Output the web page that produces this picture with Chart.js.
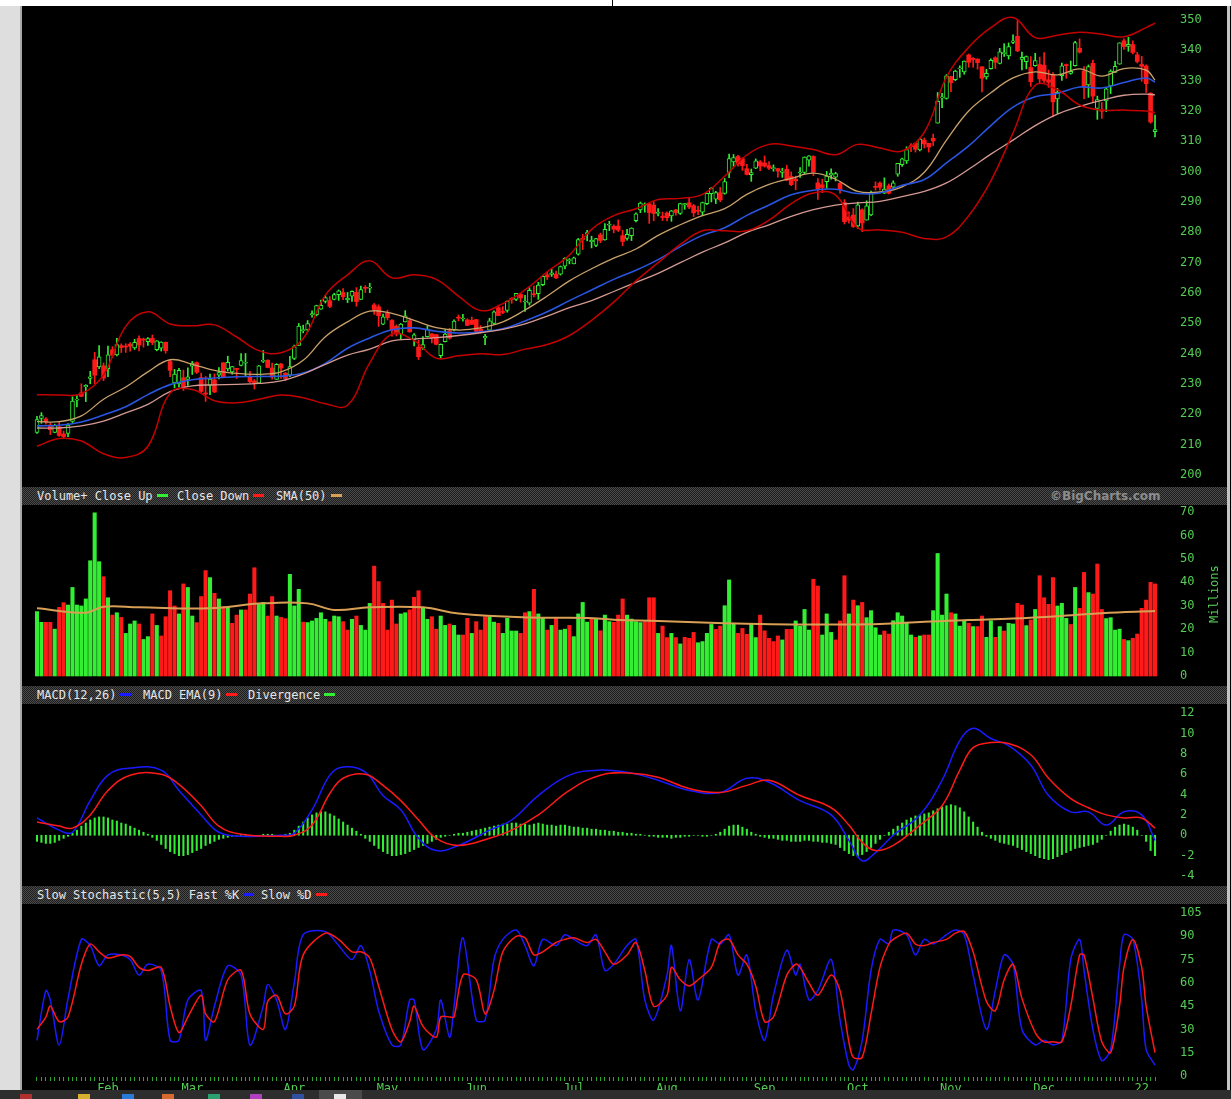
<!DOCTYPE html>
<html>
<head>
<meta charset="utf-8">
<script src="https://cdn.jsdelivr.net/npm/chart.js@4.4.1/dist/chart.umd.min.js"></script>
<style>
  body { margin: 0; width: 1231px; height: 1099px; background: #000; position: relative; overflow: hidden;
         font-family: "DejaVu Sans Mono", monospace; }
  canvas { position: absolute; left: 22px; }
  #top { position: absolute; left: 0; top: 0; width: 1231px; height: 6px; background: #fff; }
  #topline { position: absolute; left: 612px; top: 0; width: 1px; height: 6px; background: #000; }
  #left { position: absolute; left: 0; top: 6px; width: 20px; height: 1084px; background: #dedede; border-right: 2px solid #a8a8a8; }
  #edge { position: absolute; left: 1227px; top: 6px; width: 3px; height: 1084px; background: #c4c4c4; }
  .strip { position: absolute; left: 22px; width: 1205px; height: 18px;
           background: repeating-conic-gradient(#4a4a4a 0% 25%, #1e1e1e 0% 50%) 0 0 / 2px 2px;
           border-bottom: 1px solid #000; color: #e6e6e6; font-size: 12px; line-height: 18px; }
  .strip span { position: absolute; top: 0; white-space: pre; }
  .sw { display: inline-block; width: 11px; height: 3px; vertical-align: middle; margin-left: 4px; margin-bottom: 2px; }
  #copy { position: absolute; left: 1050px; top: 487px; line-height: 18px; font-family: "DejaVu Sans", sans-serif;
          font-weight: bold; font-size: 12px; color: #8c8c8c; }
  #millions { position: absolute; left: 1186px; top: 588px; width: 56px; text-align: center; font-size: 12px;
              color: #55cc55; transform: rotate(-90deg); }
  #taskbar { position: absolute; left: 0; top: 1090px; width: 1231px; height: 9px; background: #2d2d2d; }
  #taskbar div { position: absolute; top: 4px; width: 12px; height: 5px; }
</style>
</head>
<body>
<div id="top"></div><div id="topline"></div>
<div id="left"></div>

<canvas id="cPrice" width="1209" height="481" style="top:6px"></canvas>

<div class="strip" style="top:487px">
  <span style="left:15px">Volume+ Close Up<i class="sw" style="background:#33ee33"></i></span>
  <span style="left:155px">Close Down<i class="sw" style="background:#ff1a1a"></i></span>
  <span style="left:254px">SMA(50)<i class="sw" style="background:#d9a055"></i></span>
</div>
<div id="copy">©BigCharts.com</div>
<canvas id="cVol" width="1209" height="181" style="top:505px"></canvas>
<div id="millions">Millions</div>

<div class="strip" style="top:686px">
  <span style="left:15px">MACD(12,26)<i class="sw" style="background:#1a1aff"></i></span>
  <span style="left:121px">MACD EMA(9)<i class="sw" style="background:#ff1a1a"></i></span>
  <span style="left:226px">Divergence<i class="sw" style="background:#33ee33"></i></span>
</div>
<canvas id="cMacd" width="1209" height="180" style="top:706px"></canvas>

<div class="strip" style="top:886px">
  <span style="left:15px">Slow Stochastic(5,5) Fast %K<i class="sw" style="background:#1a1aff"></i></span>
  <span style="left:239px">Slow %D<i class="sw" style="background:#ff1a1a"></i></span>
</div>
<canvas id="cStoch" width="1209" height="193" style="top:906px"></canvas>

<div id="edge"></div>
<div id="taskbar">
  <div style="left:20px;background:#b03030"></div><div style="left:78px;background:#d8b030"></div>
  <div style="left:122px;background:#2a7ad8"></div><div style="left:162px;background:#d86a30"></div>
  <div style="left:208px;background:#2aa070"></div><div style="left:250px;background:#b040c0"></div>
  <div style="left:292px;background:#3050a0"></div>
  <div style="left:319px;top:0;width:43px;height:9px;background:#4a4a4a"></div>
  <div style="left:334px;background:#e8e8e8"></div>
</div>

<script>
// one trading day per index, 7 Jan 2021 .. 6 Jan 2022
const opens = [
  214.04,218.68,218.47,216.50,214.02,215.91,213.52,213.75,217.70,224.70,227.08,229.12,231.86,238.00,235.61,235.99,
  235.06,241.30,239.57,242.66,242.23,243.15,241.87,245.00,244.78,243.93,245.03,241.32,241.80,243.75,237.42,230.33,230.01,232.08,231.53,
  235.90,237.01,232.16,226.74,229.52,231.37,232.88,237.00,234.96,234.01,234.96,236.15,236.85,232.56,231.02,230.27,237.49,237.85,235.30,231.55,236.59,233.53,232.91,
  238.47,242.76,247.61,247.81,252.77,252.87,254.71,257.26,257.48,257.93,259.47,260.19,257.82,258.94,260.21,257.88,261.66,261.58,256.08,255.46,249.74,
  253.40,250.97,249.06,246.45,250.45,250.87,244.55,242.17,241.80,245.58,246.55,246.27,239.31,243.96,247.57,247.79,251.77,251.43,251.17,251.00,
  251.23,248.13,245.22,247.76,249.98,255.16,253.81,254.29,257.99,257.90,259.58,257.05,256.65,259.63,259.82,262.72,265.99,266.16,266.23,266.19,268.87,270.69,
  269.61,272.82,278.03,279.40,276.90,275.72,279.16,277.52,282.35,282.00,282.07,278.93,278.03,278.90,283.84,287.37,289.00,289.43,288.99,286.24,285.18,
  286.36,285.42,287.42,286.22,289.06,289.75,288.80,287.21,286.63,289.48,292.78,290.92,293.05,292.85,299.72,303.25,305.02,304.30,300.99,298.99,301.12,303.25,
  302.86,302.00,300.99,301.01,299.78,300.82,298.42,297.55,299.56,299.78,303.76,305.01,296.33,295.69,296.73,298.85,298.23,296.14,289.80,285.10,285.71,
  282.12,287.40,284.05,285.78,295.18,296.22,292.92,295.34,294.91,299.21,302.34,303.57,308.35,309.36,307.16,310.41,309.36,311.00,316.00,324.33,324.13,
  331.36,330.31,333.90,332.89,338.51,337.30,337.11,334.57,331.25,333.92,337.54,335.68,338.94,338.18,342.64,344.62,337.05,336.28,334.35,334.94,335.32,
  335.13,330.30,331.99,323.95,331.64,335.31,332.41,334.98,340.68,333.22,328.61,335.71,320.88,320.05,323.29,328.30,332.75,335.46,343.15,341.30,341.91,338.51,
  335.35,334.83,325.86,313.15
];
const highs = [
  219.34,220.58,218.91,217.10,216.76,217.46,214.51,216.98,225.79,226.30,230.07,229.78,234.18,240.44,242.64,236.94,
  242.50,242.31,245.09,243.24,243.28,243.68,244.76,245.92,245.15,245.30,246.13,244.31,243.93,243.86,237.93,234.83,235.20,234.59,235.37,
  237.47,237.30,233.58,232.49,233.27,233.37,235.38,237.00,239.17,235.82,235.19,240.06,240.07,234.20,231.47,236.14,241.05,238.00,236.94,236.71,236.80,233.85,239.10,
  242.84,249.96,249.40,250.93,254.14,255.99,257.67,259.19,258.83,259.93,261.00,261.48,260.20,260.68,261.78,262.30,262.44,263.19,256.54,256.10,253.08,
  254.35,251.21,249.50,249.97,254.20,251.73,246.60,244.38,245.60,249.18,246.59,246.41,243.23,247.95,248.33,251.16,252.75,252.94,251.48,252.08,
  251.29,249.27,246.34,251.65,254.09,256.01,255.53,257.46,258.49,259.88,259.89,259.25,261.75,262.30,263.52,265.79,266.83,267.85,267.25,268.90,271.65,271.36,
  271.84,278.00,279.37,280.69,278.73,278.05,279.77,282.85,283.66,282.51,284.10,280.69,280.97,281.52,286.42,289.99,289.69,289.58,290.15,287.86,286.66,
  286.77,287.23,287.59,289.63,289.50,291.55,289.25,288.66,289.97,292.90,294.82,293.54,294.82,297.76,305.84,305.65,305.40,304.59,302.43,300.87,304.22,303.65,
  305.19,303.35,302.24,301.09,301.15,302.14,299.92,298.54,301.39,304.90,305.32,305.27,297.76,297.54,300.07,300.90,299.80,296.47,290.78,286.77,287.83,
  289.98,287.75,290.40,293.63,296.64,296.64,297.97,295.95,297.00,302.68,304.45,308.21,309.30,309.54,311.09,311.09,309.40,312.40,326.10,325.84,332.00,
  331.49,333.45,334.90,336.54,338.79,337.65,337.21,334.63,333.77,337.23,337.88,340.67,342.19,342.45,345.10,349.67,339.45,338.16,337.93,339.03,337.78,
  339.28,333.49,332.70,327.45,335.80,335.50,336.48,343.00,343.79,334.64,335.19,336.76,324.92,322.80,327.73,333.61,336.39,342.48,343.81,344.30,343.13,339.36,
  338.00,335.20,326.07,318.70
];
const lows = [
  213.71,217.03,216.73,213.32,213.93,212.74,212.03,212.63,217.29,222.42,225.80,224.22,230.08,230.14,235.09,231.11,
  232.43,238.69,239.26,240.37,240.42,240.81,241.38,240.89,242.15,242.73,242.92,240.94,240.86,240.18,232.40,228.73,229.00,227.88,229.54,
  233.15,233.45,227.26,224.26,226.46,227.13,231.67,232.04,234.31,233.23,231.81,235.94,232.63,230.33,228.35,230.17,237.07,235.32,231.57,231.55,231.88,231.10,232.39,
  238.05,242.70,246.88,247.19,252.00,252.44,254.62,256.70,255.16,257.73,257.60,257.82,256.84,257.25,255.64,257.82,260.17,260.12,252.95,249.00,249.60,
  251.12,245.76,245.82,244.80,250.45,247.12,242.57,238.07,241.42,245.49,243.52,242.90,238.60,243.86,244.74,247.51,250.82,250.75,249.25,249.56,
  246.96,246.89,243.00,247.51,249.81,252.51,253.21,253.67,256.61,257.50,256.95,253.90,256.01,258.75,257.92,262.40,264.43,265.47,264.76,265.91,267.98,269.60,
  269.60,272.50,274.30,277.15,274.87,275.32,276.58,277.39,280.55,279.83,280.28,275.60,277.41,277.29,283.42,286.50,286.64,282.95,283.83,285.43,283.91,
  283.74,283.65,285.65,285.89,287.62,287.81,285.20,285.86,285.55,289.14,290.02,289.49,290.10,292.56,298.06,301.80,301.85,300.42,298.95,296.83,301.00,300.31,
  301.49,300.70,300.15,298.20,298.12,297.00,295.38,294.08,298.10,299.35,301.82,298.69,290.86,293.07,294.51,297.53,296.93,292.94,282.75,283.01,281.62,
  281.29,280.25,284.05,285.51,293.92,293.92,292.75,292.66,294.03,298.49,301.74,302.69,306.56,306.46,306.87,307.80,306.46,308.60,316.00,321.10,323.90,
  326.37,330.00,331.09,332.12,334.42,334.44,333.79,326.29,330.51,333.79,334.03,335.51,338.00,337.12,342.20,339.55,333.56,333.91,328.12,334.74,328.99,
  329.39,327.80,318.03,319.23,330.10,330.80,332.12,334.79,339.08,324.11,324.50,323.02,317.25,317.57,319.80,325.75,332.73,335.43,340.32,339.68,338.82,335.85,
  329.78,326.12,315.98,311.49
];
const closes = [
  218.29,219.62,217.49,214.93,216.34,213.02,212.65,216.44,224.34,224.97,225.95,229.53,232.33,232.90,238.93,231.96,
  239.65,239.51,243.00,242.01,242.20,242.47,243.77,242.82,244.49,244.99,243.70,244.20,243.79,240.97,234.51,233.27,234.55,228.99,232.38,
  236.94,233.87,227.56,226.73,231.60,227.39,233.78,232.42,237.13,235.75,234.81,237.71,237.04,230.72,230.35,235.99,237.58,235.46,232.34,236.48,235.24,231.85,235.77,
  242.35,249.07,247.86,249.90,253.25,255.85,255.91,258.49,255.59,259.50,260.74,258.74,258.26,260.58,257.17,261.15,261.55,261.97,254.56,252.51,252.18,
  251.86,247.79,246.47,249.73,252.46,247.18,246.23,239.00,243.03,248.15,245.18,243.08,243.12,246.48,245.17,250.78,251.72,251.49,249.31,249.68,
  247.40,247.30,245.71,250.79,253.81,252.57,253.59,257.24,257.89,259.89,258.36,257.38,260.90,259.43,262.63,265.51,265.27,266.69,265.02,268.72,271.40,270.90,
  271.60,277.65,277.66,279.93,277.42,277.94,277.32,280.98,282.51,281.03,280.75,277.01,279.32,281.40,286.14,289.67,289.05,286.54,286.22,286.50,284.91,
  284.82,287.12,286.51,289.52,289.46,288.33,286.44,286.95,289.81,292.85,294.60,293.08,290.73,296.77,304.36,304.65,302.62,302.01,299.09,299.72,303.59,301.88,
  301.83,301.15,301.14,300.18,300.21,297.25,295.71,296.99,299.79,304.82,305.22,299.87,294.30,294.80,298.58,299.56,299.35,294.17,283.52,284.00,281.92,
  289.10,283.11,288.76,293.11,294.85,294.85,294.23,292.88,296.31,302.75,304.21,307.29,308.23,307.41,310.76,309.16,308.13,310.11,323.17,324.35,331.62,
  329.37,333.13,334.00,336.44,336.06,336.99,335.95,330.80,332.43,336.72,336.07,339.51,339.12,341.27,343.11,339.83,337.68,337.91,329.68,336.63,330.59,
  330.08,329.49,323.01,326.19,334.92,334.97,333.10,342.54,339.40,328.34,334.65,324.90,323.80,319.91,327.29,333.20,334.69,342.45,341.25,341.95,339.32,336.32,
  334.75,329.01,316.38,313.88
];
// volume, millions
const volumes = [
  27.5,22.9,22.9,22.9,20.0,29.3,31.3,30.3,37.8,30.3,29.9,32.9,49.2,69.7,48.8,42.4,33.4,26.0,27.0,25.0,
  18.2,22.2,23.5,22.2,15.6,16.8,26.5,21.6,17.1,25.3,36.4,29.9,26.5,39.3,37.8,25.6,22.8,33.9,45.0,42.0,
  35.3,32.9,29.6,29.6,22.5,26.0,28.2,28.2,35.0,46.2,31.0,31.4,25.6,33.9,25.6,25.0,24.5,43.4,29.9,37.0,
  23.0,22.8,23.5,24.6,27.0,24.2,23.2,25.6,25.3,23.2,19.6,24.2,25.6,21.6,19.6,31.0,46.9,40.3,31.0,19.6,
  32.4,22.2,26.5,27.0,28.2,33.6,36.4,28.9,24.2,25.3,20.0,25.6,21.6,22.2,21.6,17.5,17.5,24.6,18.2,23.2,
  19.6,25.3,25.3,23.0,22.5,18.2,24.6,19.2,19.2,18.2,27.0,27.5,37.0,26.5,24.6,19.6,21.6,25.0,19.6,20.0,
  21.6,16.8,26.5,31.4,23.0,24.3,24.6,19.3,26.0,23.2,22.9,26.0,32.9,26.0,24.3,23.2,22.8,23.2,33.4,33.4,
  18.2,21.3,16.4,18.2,16.4,13.7,16.5,16.1,18.6,14.2,14.7,18.2,22.0,19.9,21.3,30.0,41.0,22.5,18.2,20.3,
  17.8,22.2,16.4,26.0,19.3,16.1,14.7,17.1,15.4,19.9,19.9,23.5,21.3,28.4,19.6,41.3,38.4,17.5,26.5,18.6,
  15.4,23.5,42.8,26.5,32.4,30.0,31.4,24.9,27.9,20.6,17.5,19.2,17.9,23.6,27.0,25.6,22.5,17.5,16.5,17.1,
  17.5,17.5,27.9,52.3,26.0,35.0,27.0,26.5,21.3,23.5,22.5,21.1,21.1,25.6,16.5,23.6,16.5,21.1,19.2,22.5,
  22.2,31.0,30.3,21.5,23.9,28.4,42.8,33.4,30.6,42.0,29.9,31.0,24.6,22.0,37.8,28.9,44.2,35.6,35.0,47.8,
  28.4,24.5,24.9,19.6,20.0,15.6,15.1,16.1,17.9,28.9,32.4,40.0,39.3
];

// price overlays, read every 5 sessions
const overlayDays = [0,5,10,15,20,25,30,35,40,45,50,55,60,65,70,75,80,85,90,95,100,105,110,115,120,125,
  130,135,140,145,150,155,160,165,170,175,180,185,190,195,200,205,210,215,220,225,230,235,240,245,250,252];
const bbUpper = [226.5,226.4,226.8,233,249,253.8,249.8,249.2,249.5,245.5,241,240.3,245,259.3,266,270.6,265,266,264.5,259,254.2,256.5,
  261,267,272.5,281,285.5,287.8,290.8,291.2,292.5,298.5,305.5,309,308.5,307.3,305.6,309,307.8,306.8,313,331.2,341,347.5,350.8,344.2,
  345,346,345.3,344.5,347.5,349];
const bbLower = [209.5,212,211.2,207,205.8,209.5,227,228.2,224.5,223.8,225,226.4,225.5,223.5,223,237,246.5,244.3,238.5,239.3,240,239.7,
  241.5,243,246,251,257,264,270,276,280.5,280.5,280.5,284,289.5,293,292.3,281.5,280.8,280,278,278.5,285.5,297,312.8,328.5,
  327,322,320.3,320.3,320,319.5];
const sma20 = [217.6,217.6,219.5,225,229,234,238,236.5,234.5,233.5,233.2,234,237.8,245.6,250.5,254,253.3,251,248.6,247.8,248.5,250.5,
  254.4,259,264,268,271.5,274.5,279,282.5,285.5,287.8,292.5,295.8,297.8,299.5,297.5,293.5,293.3,295,299.8,310.4,320,326,330.9,332.9,
  331.9,333.9,331.5,334,333.5,330.2];
const sma50 = [216.2,216.4,217.5,219.8,222.5,226.5,229.8,231.4,232,232.4,232.5,232.6,233.6,236.8,241.8,245.2,247.9,248.5,247.4,246.8,247.2,248.2,
  250.8,253.8,257.5,261,264.5,267.5,271,275.3,279,281.5,285.6,289,292.4,293.9,294.2,292.8,293,295.5,297.4,302.9,308.5,315.2,321.3,324.7,
  325.8,327.9,327.6,329.4,330.9,329.6];
const sma100 = [215.5,215.5,216.2,217.8,220.5,223.3,227.5,229.4,229.7,229.9,230.2,231,233.3,236.5,239.5,241.5,244.2,244.8,245.3,246,246.9,248,
  249.8,252.4,255.2,257.5,260.5,263.5,266.5,270,273.5,276.5,280,282.5,285.3,287.5,289,289.7,290.2,291.8,293.5,296.3,300.8,305.8,310.4,315.2,
  319,321.5,323.5,325.2,325.6,325.3];

const volSmaDays = [0,11,15,23,39,51,61,67,75,87,95,111,124,130,140,150,160,170,180,190,200,210,220,230,240,252];
const volSma = [28.9,27.0,29.6,29.3,28.9,31.0,31.0,28.2,29.3,29.3,26.7,25.0,24.8,24.0,23.5,22.8,22.3,22.0,22.0,22.2,23.2,23.9,24.5,25.5,26.8,27.7];

const macdDays = [0,5,8,12,16,21,28,32,37,41,46,55,58,62,66,69,74,78,82,86,90,95,102,107,113,120,127,134,140,147,154,160,165,172,
  179,183,186,189,193,199,204,208,211,215,219,224,228,233,237,241,245,249,252];
const macdLine = [1.7,0.5,0.3,3.4,5.9,6.6,6.4,4.4,2.0,0.3,-0.1,0.0,0.2,2.5,5.9,6.7,6.2,3.9,2.5,-0.3,-1.5,-1.0,0.5,1.5,3.9,5.9,6.4,6.1,5.4,4.4,
  4.2,5.6,5.2,3.4,2.0,-0.5,-2.5,-1.7,0.0,2.0,5.4,9.3,10.5,9.5,8.8,6.9,3.9,2.3,2.3,1.0,2.3,2.0,-0.5];
const macdSignal = [1.3,0.9,0.7,2.0,4.4,5.9,6.0,5.0,2.9,0.9,0.1,-0.1,0.0,1.0,4.1,5.6,6.0,4.9,3.4,1.5,-0.3,-1.0,-0.3,0.5,2.0,4.4,5.9,6.1,5.7,4.6,
  4.2,4.9,5.4,3.9,2.7,1.0,-0.7,-1.5,-1.0,1.0,2.9,6.4,8.6,9.1,9.0,7.9,5.6,3.6,2.7,2.0,1.7,1.7,0.7];
const divergence = [
  -0.6,-0.7,-0.8,-0.8,-0.7,-0.5,-0.3,-0.1,
  0.2,0.5,0.9,1.2,1.5,1.7,1.8,1.8,1.7,1.5,1.4,1.2,1.1,0.9,0.7,0.5,0.3,0.1,
  -0.2,-0.5,-0.9,-1.3,-1.6,-1.8,-2.0,-2.0,-1.9,-1.7,-1.5,-1.3,-1.0,-0.8,-0.6,-0.4,-0.3,-0.2,
  -0.1,0.0,0.1,0.1,0.0,-0.1,0.0,0.1,0.1,0.1,0.0,0.0,0.1,0.2,
  0.5,0.9,1.3,1.7,2.0,2.2,2.3,2.3,2.1,1.9,1.6,1.3,1.0,0.7,0.4,0.1,
  -0.3,-0.6,-1.0,-1.3,-1.6,-1.8,-2.0,-2.0,-1.9,-1.8,-1.6,-1.4,-1.2,-1.0,-0.8,-0.6,-0.4,-0.2,
  -0.1,0.0,0.1,0.2,0.2,0.3,0.4,0.5,0.6,0.7,
  0.8,0.9,1.0,1.1,1.1,1.2,1.2,1.1,1.1,1.0,1.1,1.2,1.1,1.0,1.0,0.9,1.0,1.0,0.9,0.8,0.8,0.7,0.7,0.6,0.6,0.5,
  0.5,0.4,0.4,0.3,0.3,0.2,0.2,0.1,0.1,0.0,-0.1,-0.1,-0.2,-0.2,-0.2,-0.3,-0.2,-0.2,-0.1,-0.1,0.0,0.0,-0.1,-0.1,0.0,0.1,0.3,
  0.6,0.9,1.0,1.0,0.8,0.6,0.3,0.1,
  -0.1,-0.2,-0.3,-0.3,-0.4,-0.5,-0.5,-0.6,-0.6,-0.6,-0.5,-0.5,-0.6,-0.6,-0.7,-0.7,-0.8,-0.9,
  -1.2,-1.5,-1.8,-2.0,-2.1,-1.9,-1.6,-1.2,-0.8,-0.4,
  0.0,0.3,0.6,0.9,1.2,1.5,1.7,1.9,2.0,2.1,2.2,2.4,2.6,2.8,2.9,3.0,2.9,2.7,2.3,1.8,1.3,0.8,0.3,
  -0.1,-0.3,-0.5,-0.7,-0.8,-0.9,-1.0,-1.2,-1.4,-1.6,-1.8,-2.0,-2.2,-2.3,-2.4,-2.3,-2.1,-1.9,-1.7,-1.5,-1.3,-1.2,-1.1,-1.0,-0.9,-0.7,-0.4,
  0.0,0.4,0.8,1.0,1.1,1.0,0.8,0.5,
  0.0,-0.6,-1.5,-2.0
];

const stochDays = [0,2,3,5,7,10,12,14,16,19,21,23,25,28,30,32,34,37,38,40,43,46,48,51,52,54,56,58,60,65,68,71,73,75,77,80,82,84,85,87,
  90,91,93,94,96,99,101,103,105,108,110,112,114,117,119,121,124,126,128,130,133,135,137,139,142,143,145,147,149,152,154,156,158,160,
  162,164,166,169,171,172,174,176,179,181,183,184,186,188,190,192,193,196,198,200,202,205,207,209,211,214,216,218,220,222,225,227,
  229,231,233,235,236,238,240,242,244,245,247,249,250,252];
const fastK = [23,55,49,20,50,88,84,71,78,78,75,65,72,68,23,23,49,55,23,45,71,65,20,45,59,49,30,60,91,93,84,75,84,68,42,20,20,49,49,17,
  30,49,25,45,89,36,36,75,88,94,84,71,88,84,91,88,84,91,68,72,84,88,49,36,65,84,42,75,49,88,85,91,65,78,
  42,23,52,81,65,72,49,55,75,36,7,4,23,68,88,85,94,91,78,88,85,91,94,91,65,30,55,78,72,30,20,23,
  20,23,75,88,68,30,10,17,71,91,88,49,17,7];
const slowD = [30,38,45,35,38,72,85,80,76,78,77,70,68,70,45,28,38,52,40,35,62,68,40,30,48,52,40,45,78,92,88,80,80,76,58,30,22,35,45,32,
  25,38,38,38,65,62,40,55,80,90,89,78,80,86,88,89,86,88,80,72,78,86,68,45,52,70,62,58,62,70,86,88,78,72,
  58,35,38,65,72,70,60,52,65,55,22,12,12,40,70,85,88,92,85,84,86,88,92,93,80,48,42,62,72,50,28,22,
  22,22,45,78,78,50,22,15,45,70,88,70,45,15];

const priceTicks = [200,210,220,230,240,250,260,270,280,290,300,310,320,330,340,350];
const volTicks = [0,10,20,30,40,50,60,70];
const macdTicks = [-4,-2,0,2,4,6,8,10,12];
const stochTicks = [0,15,30,45,60,75,90,105];
const monthStarts = [16,35,58,79,99,121,142,164,185,206,227,249];
const monthNames = ['Feb','Mar','Apr','May','Jun','Jul','Aug','Sep','Oct','Nov','Dec','22'];

const GREEN = '#33ee33', RED = '#ff1a1a', AXIS = '#55cc55';
const FONT = { family: 'DejaVu Sans Mono', size: 12 };
const days = closes.map((c, i) => i);
const X_MIN = -3.38, X_MAX = 254.25;

function xAxis() {
  return { type: 'linear', min: X_MIN, max: X_MAX, offset: false, display: false };
}
function yAxis(min, max, ticks) {
  return {
    position: 'right', min: min, max: max,
    afterBuildTicks: s => { s.ticks = ticks.map(v => ({ value: v })); },
    afterFit: s => { s.width = 66; s.paddingTop = 0; s.paddingBottom = 0; },
    grid: { display: false }, border: { display: false },
    ticks: { color: AXIS, font: FONT, padding: 7 }
  };
}
function pts(xs, ys) { return xs.map((x, k) => ({ x: x, y: ys[k] })); }
function line(xs, ys, color, width, tension) {
  return { type: 'line', data: pts(xs, ys), borderColor: color, borderWidth: width,
           pointRadius: 0, tension: tension, fill: false, order: 0 };
}
const common = {
  responsive: false, animation: false, events: [],
  layout: { padding: 0 },
  plugins: { legend: { display: false }, tooltip: { enabled: false } }
};

const candleUp = closes.map((c, i) => c >= opens[i]);
const volUp = closes.map((c, i) => c >= (i ? closes[i - 1] : opens[0]));

new Chart(document.getElementById('cPrice'), {
  type: 'bar',
  data: {
    datasets: [
      line(overlayDays, bbUpper, '#c40000', 1.5, 0.4),
      line(overlayDays, bbLower, '#c40000', 1.5, 0.4),
      line(overlayDays, sma100, '#d49a92', 1.3, 0.4),
      line(overlayDays, sma50, '#2a55e0', 1.6, 0.4),
      line(overlayDays, sma20, '#c9a16a', 1.3, 0.4),
      {
        data: days.map(i => ({ x: i, y: [lows[i], highs[i]] })),
        backgroundColor: days.map(i => candleUp[i] ? GREEN : RED),
        barThickness: 1, grouped: false, order: 3
      },
      {
        data: days.map(i => ({ x: i, y: [opens[i], closes[i]] })),
        backgroundColor: days.map(i => candleUp[i] ? '#000' : RED),
        borderColor: days.map(i => candleUp[i] ? GREEN : RED),
        borderWidth: days.map(i => candleUp[i] ? 1 : 0),
        borderSkipped: false, minBarLength: 1,
        barThickness: 4, grouped: false, order: 2
      }
    ]
  },
  options: Object.assign({}, common, {
    scales: { x: xAxis(), y: yAxis(196.05, 354.62, priceTicks) }
  })
});

new Chart(document.getElementById('cVol'), {
  type: 'bar',
  data: {
    datasets: [
      line(volSmaDays, volSma, '#d9a055', 2, 0.4),
      {
        data: days.map(i => ({ x: i, y: volumes[i] })),
        backgroundColor: days.map(i => volUp[i] ? GREEN : RED),
        barThickness: 3.4, grouped: false, order: 2
      }
    ]
  },
  options: Object.assign({}, common, {
    scales: { x: xAxis(), y: yAxis(-4.27, 72.99, volTicks) }
  })
});

new Chart(document.getElementById('cMacd'), {
  type: 'bar',
  data: {
    datasets: [
      line(macdDays, macdSignal, RED, 1.5, 0.4),
      line(macdDays, macdLine, '#1a1aff', 1.5, 0.4),
      {
        data: days.map(i => ({ x: i, y: divergence[i] })),
        backgroundColor: GREEN, barThickness: 1.4, grouped: false, order: 2
      }
    ]
  },
  options: Object.assign({}, common, {
    scales: { x: xAxis(), y: yAxis(-4.98, 12.69, macdTicks) }
  })
});

new Chart(document.getElementById('cStoch'), {
  type: 'line',
  data: {
    datasets: [
      line(stochDays, slowD, RED, 1.5, 0.3),
      line(stochDays, fastK, '#1a1aff', 1.5, 0.3)
    ]
  },
  options: Object.assign({}, common, {
    scales: {
      x: {
        type: 'linear', min: X_MIN, max: X_MAX, offset: false,
        afterBuildTicks: s => { s.ticks = days.map(v => ({ value: v })); },
        afterFit: s => { s.height = 22; s.paddingLeft = 0; s.paddingRight = 0; },
        grid: { drawOnChartArea: false, drawTicks: true, tickLength: 4, color: '#2fa82f' },
        border: { display: false },
        ticks: {
          autoSkip: false, maxRotation: 0, minRotation: 0, color: AXIS, font: FONT, padding: 1,
          callback: v => { const k = monthStarts.indexOf(v); return k >= 0 ? monthNames[k] : ''; }
        }
      },
      y: yAxis(-0.64, 109.51, stochTicks)
    }
  })
});
</script>
</body>
</html>
